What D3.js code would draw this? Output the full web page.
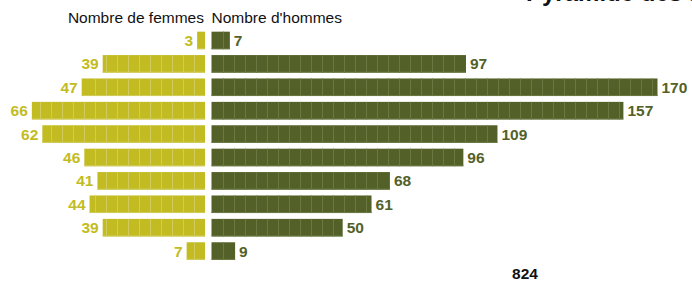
<!DOCTYPE html>
<html>
<head>
<meta charset="utf-8">
<script src="https://cdn.jsdelivr.net/npm/d3@7"></script>
<style>
  body { margin: 0; background: #fff; }
  svg { display: block; font-family: 'Liberation Sans', Arial, sans-serif; }
</style>
</head>
<body>
<div id="chart"></div>
<script>
const width = 692
const height = 282

// one row per age band, top to bottom
const rows = ['r1', 'r2', 'r3', 'r4', 'r5', 'r6', 'r7', 'r8', 'r9', 'r10']
const women = [3, 39, 47, 66, 62, 46, 41, 44, 39, 7]
const men = [7, 97, 170, 157, 109, 96, 68, 61, 50, 9]
const womenLabel = 'Nombre de femmes'
const menLabel = "Nombre d'hommes"
const title = 'Pyramide des âges'

const womenColor = '#c2bc22'
const womenLine = '#d0cb5c'
const menColor = '#536128'
const menLine = '#6a7843'

const svg = d3.select('#chart').append('svg')
  .attr('width', width)
  .attr('height', height)

const menX0 = 211.5
const womenX0 = 205

const x = d3.scaleLinear()
  .domain([0, 170])
  .range([0, 446])

const y = d3.scaleBand()
  .domain(rows)
  .range([30.5, 261])
  .paddingInner(0.25)
  .paddingOuter(0.05)

const seg = 4.2 // units per block

// title, mostly cut off above the frame
svg.append('text')
  .attr('x', 526)
  .attr('y', 1)
  .attr('font-size', 24)
  .attr('font-weight', 'bold')
  .attr('fill', '#111')
  .text(title)

svg.append('text')
  .attr('x', womenX0 - 1)
  .attr('y', 23)
  .attr('text-anchor', 'end')
  .attr('font-size', 15.5)
  .attr('fill', '#111')
  .text(womenLabel)

svg.append('text')
  .attr('x', menX0)
  .attr('y', 23)
  .attr('font-size', 15.5)
  .attr('fill', '#111')
  .text(menLabel)

const drawSide = (values, color, line, dir, x0) => {
  const g = svg.append('g')
  values.forEach((v, i) => {
    const w = x(v)
    const top = y(rows[i])
    const h = y.bandwidth()
    const left = dir > 0 ? x0 : x0 - w
    g.append('rect')
      .attr('x', left)
      .attr('y', top)
      .attr('width', w)
      .attr('height', h)
      .attr('fill', color)
    g.append('rect')
      .attr('x', left)
      .attr('y', top + h - 1)
      .attr('width', w)
      .attr('height', 1)
      .attr('fill', line)
    // block separators, snapped to the pixel grid
    d3.range(seg, v - 1, seg).forEach(u => {
      const px = Math.round(dir > 0 ? x0 + x(u) : x0 - x(u)) + 0.5
      g.append('line')
        .attr('x1', px).attr('x2', px)
        .attr('y1', top).attr('y2', top + h)
        .attr('stroke', line)
        .attr('stroke-width', 1)
    })
    g.append('text')
      .attr('x', dir > 0 ? x0 + w + 4 : x0 - w - 4)
      .attr('y', top + h / 2)
      .attr('dy', '0.36em')
      .attr('text-anchor', dir > 0 ? 'start' : 'end')
      .attr('font-size', 15.5)
      .attr('font-weight', 'bold')
      .attr('fill', color)
      .text(v)
  })
}

drawSide(women, womenColor, womenLine, -1, womenX0)
drawSide(men, menColor, menLine, 1, menX0)

svg.append('text')
  .attr('x', 525)
  .attr('y', 279)
  .attr('text-anchor', 'middle')
  .attr('font-size', 15.5)
  .attr('font-weight', 'bold')
  .attr('fill', '#111')
  .text(d3.sum(men))
</script>
</body>
</html>
